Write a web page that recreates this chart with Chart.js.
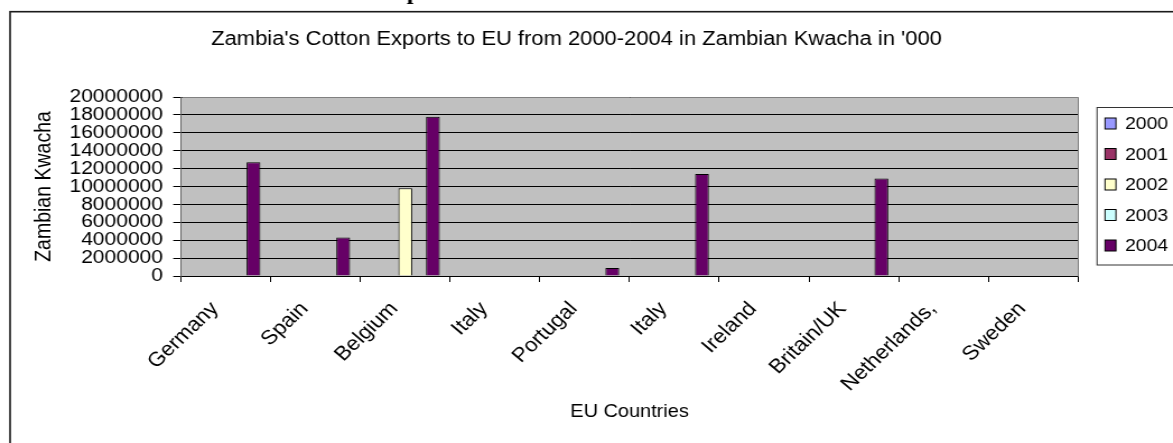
<!DOCTYPE html>
<html><head><meta charset="utf-8">
<script src="https://cdn.jsdelivr.net/npm/chart.js@4"></script>
<style>
html,body{margin:0;padding:0;background:#fff;overflow:hidden;width:1173px;height:443px;}
#wrap{position:absolute;left:0;top:0;width:1047px;height:443px;transform:scaleX(1.120344);transform-origin:0 0;}
canvas{display:block;}
</style></head><body>
<div id="wrap"><canvas id="c" width="1047" height="443"></canvas></div>
<script>
// ---- data ----
const categories = ['Germany','Spain','Belgium','Italy','Portugal','Italy','Ireland','Britain/UK','Netherlands,','Sweden'];
const seriesNames = ['2000','2001','2002','2003','2004'];
const values2000 = [0,0,0,0,0,0,0,0,0,0];
const values2001 = [0,0,0,0,0,0,0,0,0,0];
const values2002 = [0,0,9800000,0,0,0,0,0,0,0];
const values2003 = [0,0,0,0,0,0,0,0,0,0];
const values2004 = [12700000,4300000,17800000,0,900000,11400000,0,10900000,0,0];
const yTickLabels = ['0','2000000','4000000','6000000','8000000','10000000','12000000','14000000','16000000','18000000','20000000'];
const chartTitle = "Zambia's Cotton Exports to EU from 2000-2004 in Zambian Kwacha in '000";
const xTitle = 'EU Countries';
const yTitle = 'Zambian Kwacha';
const seriesColors = ['#9999FF','#993366','#FFFFCC','#CCFFFF','#660066'];

const FONT = '"Liberation Sans", Arial, sans-serif';
const allValues = [values2000, values2001, values2002, values2003, values2004];

const decor = {
  id: 'decor',
  beforeDraw(chart) {
    const {ctx, chartArea: a} = chart;
    ctx.save();
    ctx.fillStyle = '#fff';
    ctx.fillRect(0, 0, chart.width, chart.height);
    ctx.fillStyle = '#C0C0C0';
    ctx.fillRect(a.left, a.top, a.right - a.left, a.bottom - a.top);
    // outer chart border
    ctx.strokeStyle = '#1a1a1a';
    ctx.lineWidth = 1.6;
    ctx.strokeRect(9.0, 11.7, 3000, 3000);
    // cut-off heading fragment above the chart
    ctx.fillStyle = '#000';
    ctx.font = 'bold 22px "Liberation Serif", "Times New Roman", serif';
    ctx.textBaseline = 'alphabetic';
    ctx.textAlign = 'left';
    ctx.fillText('Exports', 337.4, -1);
    // chart title
    ctx.font = '19.6px ' + FONT;
    ctx.textAlign = 'center';
    ctx.fillText(chartTitle, 514.6, 45);
    ctx.restore();
  },
  afterDatasetsDraw(chart) {
    const {ctx, chartArea: a} = chart;
    ctx.save();
    ctx.strokeStyle = '#808080';
    ctx.lineWidth = 1;
    ctx.beginPath();
    ctx.moveTo(Math.round(a.left) + 0.5, Math.round(a.top) + 0.5);
    ctx.lineTo(Math.round(a.right) + 0.5, Math.round(a.top) + 0.5);
    ctx.lineTo(Math.round(a.right) + 0.5, Math.round(a.bottom) + 0.5);
    ctx.stroke();
    // legend
    const boxL = 979.2, boxT = 107.5, boxB = 265;
    ctx.strokeStyle = '#333';
    ctx.lineWidth = 1;
    ctx.fillStyle = '#fff';
    ctx.fillRect(boxL, boxT, 200, boxB - boxT);
    ctx.strokeRect(boxL, boxT, 200, boxB - boxT);
    ctx.font = '17.3px ' + FONT;
    ctx.textBaseline = 'middle';
    ctx.textAlign = 'left';
    chart.data.datasets.forEach((ds, i) => {
      const cy = 123.5 + i * 30.5;
      ctx.fillStyle = ds.backgroundColor;
      ctx.fillRect(986.3, cy - 5.5, 9.8, 11);
      ctx.strokeStyle = '#000';
      ctx.strokeRect(986.3, cy - 5.5, 9.8, 11);
      ctx.fillStyle = '#000';
      ctx.fillText(ds.label, 1004.2, cy + 1);
    });
    ctx.restore();
  }
};

new Chart(document.getElementById('c'), {
  type: 'bar',
  data: {
    labels: categories,
    datasets: seriesNames.map((n, i) => ({
      label: n,
      data: allValues[i],
      backgroundColor: seriesColors[i],
      borderColor: '#000',
      borderWidth: 1,
      borderSkipped: 'start'
    }))
  },
  options: {
    responsive: false,
    animation: false,
    devicePixelRatio: 1,
    events: [],
    categoryPercentage: 5 / 6.5,
    barPercentage: 1,
    layout: {padding: {left: 0, right: 84.8, top: 97, bottom: 20}},
    plugins: {legend: {display: false}, title: {display: false}, tooltip: {enabled: false}},
    scales: {
      x: {
        afterFit(s) { s.height = 147; },
        grid: {drawOnChartArea: false, drawTicks: true, tickLength: 6, color: '#000', tickColor: '#000', offset: true},
        border: {display: true, color: '#000', width: 1},
        ticks: {
          autoSkip: false, minRotation: 46.7, maxRotation: 46.7, padding: 15.3, labelOffset: -9.8,
          color: '#000', font: {family: FONT, size: 20}
        },
        title: {display: true, text: xTitle, color: '#000', font: {family: FONT, size: 17.8}, padding: {top: 0, bottom: 0}}
      },
      y: {
        min: 0, max: 20000000,
        afterFit(s) { s.width = 161.6; },
        grid: {color: '#000', lineWidth: 1, drawTicks: true, tickLength: 7, tickColor: '#000'},
        border: {display: true, color: '#606060', width: 1},
        ticks: {
          stepSize: 2000000, autoSkip: false, padding: 9.1, color: '#000', font: {family: FONT, size: 18.8},
          callback: (v, i) => yTickLabels[i]
        },
        title: {display: true, text: yTitle, color: '#000', font: {family: FONT, size: 19.5}, padding: {top: 28.2, bottom: 0}}
      }
    }
  },
  plugins: [decor]
});
</script>
</body></html>
